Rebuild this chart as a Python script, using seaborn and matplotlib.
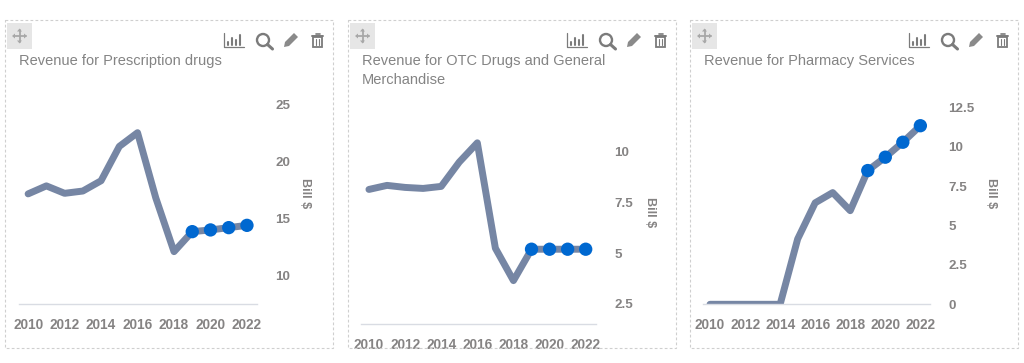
import pandas as pd
import seaborn as sns
import matplotlib.pyplot as plt
from matplotlib.patches import Rectangle, Circle, Polygon

years = [2010, 2011, 2012, 2013, 2014, 2015, 2016, 2017, 2018, 2019, 2020, 2021, 2022]
forecast_years = [2019, 2020, 2021, 2022]

prescription = [17.15, 17.85, 17.2, 17.4, 18.3, 21.3, 22.5, 16.8, 12.1, 13.85, 14.0, 14.2, 14.4]
otc = [8.15, 8.35, 8.25, 8.2, 8.3, 9.5, 10.45, 5.25, 3.65, 5.2, 5.2, 5.2, 5.2]
services = [0, 0, 0, 0, 0, 4.15, 6.45, 7.1, 5.95, 8.5, 9.35, 10.3, 11.35]

title_1 = "Revenue for Prescription drugs"
title_2 = "Revenue for OTC Drugs and General\nMerchandise"
title_3 = "Revenue for Pharmacy Services"

ticks_1 = [10, 15, 20, 25]
ticks_2 = [2.5, 5, 7.5, 10]
ticks_3 = [0, 2.5, 5, 7.5, 10, 12.5]

W, H = 1024, 363
LINE = "#7686a4"
DOT = "#0068d0"
TXT = "#858383"
ICON = "#7b7b7b"

sns.set_theme(style="white")
plt.rcParams["font.family"] = ["Liberation Sans", "DejaVu Sans"]

fig = plt.figure(figsize=(W / 100, H / 100), dpi=100)

# one row per panel: values, title, ticks, ylim, left/right/top/bottom in px, label pos, box x
panels = [
    (prescription, title_1, ticks_1, (7.5, 26.23), (19, 257, 90, 304.3), (305, 193), 5, (2009.5, 2022.55)),
    (otc, title_2, ticks_2, (1.51, 12.07), (361, 596, 110, 324), (650, 212), 348, (2009.56, 2022.57)),
    (services, title_3, ticks_3, (0, 13.62), (703, 930, 90, 304.3), (991, 193), 690, (2009.6, 2022.55)),
]

# overlay in pixel coords for the dashboard furniture
ov = fig.add_axes([0, 0, 1, 1], zorder=5)
ov.set_xlim(0, W)
ov.set_ylim(H, 0)
ov.axis("off")
ov.patch.set_alpha(0)


def draw_icons(x0):
    # panel frame + move handle
    ov.add_patch(Rectangle((x0, 20), 328, 328, fill=False, ec="#cfcfcf", lw=0.8, ls=(0, (2.5, 2))))
    ov.add_patch(Rectangle((x0 + 2, 23), 25, 26, fc="#e6e6e6", ec="none"))
    cx, cy = x0 + 14.5, 36
    ov.plot([cx - 6, cx + 6], [cy, cy], color="#a8a8a8", lw=1.3)
    ov.plot([cx, cx], [cy - 6, cy + 6], color="#a8a8a8", lw=1.3)
    for dx, dy in [(1, 0), (-1, 0), (0, 1), (0, -1)]:
        tip = (cx + 7.5 * dx, cy + 7.5 * dy)
        a = (cx + 4.5 * dx + 2.5 * dy, cy + 4.5 * dy + 2.5 * dx)
        b = (cx + 4.5 * dx - 2.5 * dy, cy + 4.5 * dy - 2.5 * dx)
        ov.add_patch(Polygon([tip, a, b], fc="#a8a8a8", ec="none"))
    # bar chart icon
    bx = x0 + 219
    ov.plot([bx, bx, bx + 20], [33, 46.5, 46.5], color=ICON, lw=0.9)
    for off, top in [(4, 42), (8, 38), (12, 40), (16, 35)]:
        ov.plot([bx + off, bx + off], [45, top], color=ICON, lw=1.5)
    # magnifier
    ov.add_patch(Circle((x0 + 258, 40), 6, fill=False, ec=ICON, lw=1.7))
    ov.plot([x0 + 262.5, x0 + 267.5], [44.5, 49], color=ICON, lw=2.2)
    # pencil
    px = x0 + 279
    ov.add_patch(Polygon([(px, 47), (px + 1, 42), (px + 10, 33), (px + 14, 37), (px + 5, 46)], fc="#8a8a8a", ec="none"))
    # bin
    tx = x0 + 307
    ov.add_patch(Rectangle((tx + 1, 37), 9, 10, fill=False, ec=ICON, lw=1.3))
    ov.plot([tx, tx + 11], [35.5, 35.5], color=ICON, lw=1.4)
    ov.plot([tx + 3.5, tx + 7.5], [33.7, 33.7], color=ICON, lw=1.2)
    ov.plot([tx + 4.2, tx + 4.2], [39, 45], color=ICON, lw=0.8)
    ov.plot([tx + 6.8, tx + 6.8], [39, 45], color=ICON, lw=0.8)


for values, title, ticks, ylim, box, label_pos, x0, xlim in panels:
    left, right, top, bottom = box
    ax = fig.add_axes([left / W, 1 - bottom / H, (right - left) / W, (bottom - top) / H], facecolor="none")
    df = pd.DataFrame({"year": years, "value": values})
    sns.lineplot(data=df, x="year", y="value", color=LINE, linewidth=5, ax=ax)
    fc = df[df["year"].isin(forecast_years)]
    sns.scatterplot(data=fc, x="year", y="value", color=DOT, s=92, edgecolor="none", zorder=3, ax=ax)
    ax.set_xlim(*xlim)
    ax.set_ylim(*ylim)
    ax.set_xticks(years[::2])
    ax.set_yticks(ticks)
    ax.set_yticklabels([f"{t:g}" for t in ticks])
    ax.yaxis.tick_right()
    ax.set_xlabel("")
    ax.set_ylabel("")
    ax.tick_params(axis="x", length=0, pad=10, labelsize=9.8, labelcolor=TXT)
    ax.tick_params(axis="y", length=0, pad=13, labelsize=9.6, labelcolor=TXT)
    for lab in ax.get_xticklabels() + ax.get_yticklabels():
        lab.set_fontweight("bold")
    sns.despine(ax=ax, left=True, right=True, top=True)
    ax.spines["bottom"].set_color("#d9dce3")
    ax.spines["bottom"].set_linewidth(1)

    ov.text(x0 + 14, 53.5, title, fontsize=10.55, color="#848484", va="top", ha="left", linespacing=1.5)
    ov.text(label_pos[0], label_pos[1], "Bill $", rotation=270, fontsize=9, fontweight="bold",
            color=TXT, ha="center", va="center")
    draw_icons(x0)

fig.savefig("out.png", dpi=100)
